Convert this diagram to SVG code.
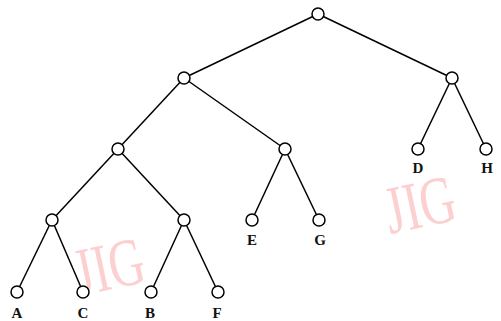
<svg xmlns="http://www.w3.org/2000/svg" width="501" height="321" viewBox="0 0 501 321">
<style>
.e{stroke:#000;stroke-width:1.5;fill:none}
.n{fill:#fff;stroke:#000;stroke-width:1.5}
.l{font-family:"Liberation Serif",serif;font-weight:bold;font-size:15px;fill:#111;text-anchor:middle}
.w{font-family:"Liberation Serif",serif;font-size:68px;fill:#fcd0d0}
</style>
<rect width="501" height="321" fill="#fff"/>
<g id="watermarks">
<text class="w" transform="translate(79,296) rotate(-12) scale(0.72,1)">JIG</text>
<text class="w" transform="translate(390,234) rotate(-12) scale(0.72,1)">JIG</text>
</g>
<g id="edges">
<line class="e" x1="318" y1="14" x2="184" y2="78"/>
<line class="e" x1="318" y1="14" x2="452" y2="78"/>
<line class="e" x1="184" y1="78" x2="118" y2="149"/>
<line class="e" x1="184" y1="78" x2="285" y2="149"/>
<line class="e" x1="452" y1="78" x2="418" y2="149"/>
<line class="e" x1="452" y1="78" x2="486" y2="149"/>
<line class="e" x1="118" y1="149" x2="52" y2="220"/>
<line class="e" x1="118" y1="149" x2="184" y2="220"/>
<line class="e" x1="285" y1="149" x2="252" y2="220"/>
<line class="e" x1="285" y1="149" x2="319" y2="220"/>
<line class="e" x1="52" y1="220" x2="17" y2="292"/>
<line class="e" x1="52" y1="220" x2="83" y2="292"/>
<line class="e" x1="184" y1="220" x2="151" y2="292"/>
<line class="e" x1="184" y1="220" x2="218" y2="292"/>
</g>
<g id="root"><circle class="n" cx="318" cy="14" r="6"/></g>
<g id="n1"><circle class="n" cx="184" cy="78" r="6"/></g>
<g id="n2"><circle class="n" cx="452" cy="78" r="6"/></g>
<g id="n3"><circle class="n" cx="118" cy="149" r="6"/></g>
<g id="n4"><circle class="n" cx="285" cy="149" r="6"/></g>
<g id="D"><circle class="n" cx="418" cy="149" r="6"/><text class="l" x="418" y="173">D</text></g>
<g id="H"><circle class="n" cx="486" cy="149" r="6"/><text class="l" x="487" y="173">H</text></g>
<g id="n5"><circle class="n" cx="52" cy="220" r="6"/></g>
<g id="n6"><circle class="n" cx="184" cy="220" r="6"/></g>
<g id="E"><circle class="n" cx="252" cy="220" r="6"/><text class="l" x="252" y="245">E</text></g>
<g id="G"><circle class="n" cx="319" cy="220" r="6"/><text class="l" x="320" y="245">G</text></g>
<g id="A"><circle class="n" cx="17" cy="292" r="6"/><text class="l" x="17" y="318">A</text></g>
<g id="C"><circle class="n" cx="83" cy="292" r="6"/><text class="l" x="83" y="318">C</text></g>
<g id="B"><circle class="n" cx="151" cy="292" r="6"/><text class="l" x="150" y="318">B</text></g>
<g id="F"><circle class="n" cx="218" cy="292" r="6"/><text class="l" x="217" y="318">F</text></g>
</svg>
